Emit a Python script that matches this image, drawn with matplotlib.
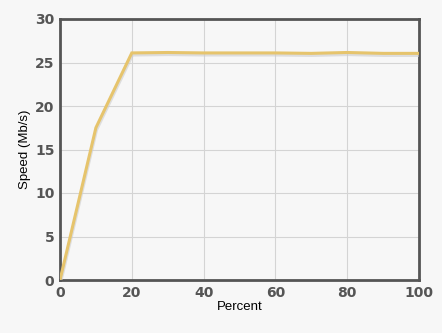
import matplotlib.pyplot as plt
import matplotlib.patheffects as pe

percent = [0, 10, 20, 30, 40, 50, 60, 70, 80, 90, 100]
speed = [0, 17.5, 26.1, 26.15, 26.1, 26.1, 26.1, 26.05, 26.15, 26.05, 26.05]

BG = "#f7f7f7"
fig = plt.figure(figsize=(4.42, 3.33), dpi=100, facecolor=BG)
ax = fig.add_axes([60 / 442, 53 / 333, 359 / 442, 261 / 333], facecolor=BG)

ax.plot(percent, speed, color="#e6c46c", linewidth=2.2, solid_joinstyle="miter",
        path_effects=[pe.SimpleLineShadow(offset=(0.5, -1.5), shadow_color="#cccccc", alpha=0.6),
                      pe.Normal()], zorder=3)

ax.set_xlim(0, 100)
ax.set_ylim(0, 30)
ax.set_xticks(range(0, 101, 20))
ax.set_yticks(range(0, 31, 5))
ax.grid(color="#d4d4d4", linewidth=0.8)
ax.set_axisbelow(True)

for s in ax.spines.values():
    s.set_color("#555555")
    s.set_linewidth(2)

ax.tick_params(length=0, pad=4, colors="#555555", labelsize=10)
for lab in ax.get_xticklabels() + ax.get_yticklabels():
    lab.set_fontweight("bold")

ax.set_xlabel("Percent", fontsize=9.5, family="Liberation Sans", color="black", labelpad=1)
ax.set_ylabel("Speed (Mb/s)", fontsize=9.5, family="Liberation Sans", color="black", labelpad=3)

fig.savefig("out.png", dpi=100, facecolor=BG)
